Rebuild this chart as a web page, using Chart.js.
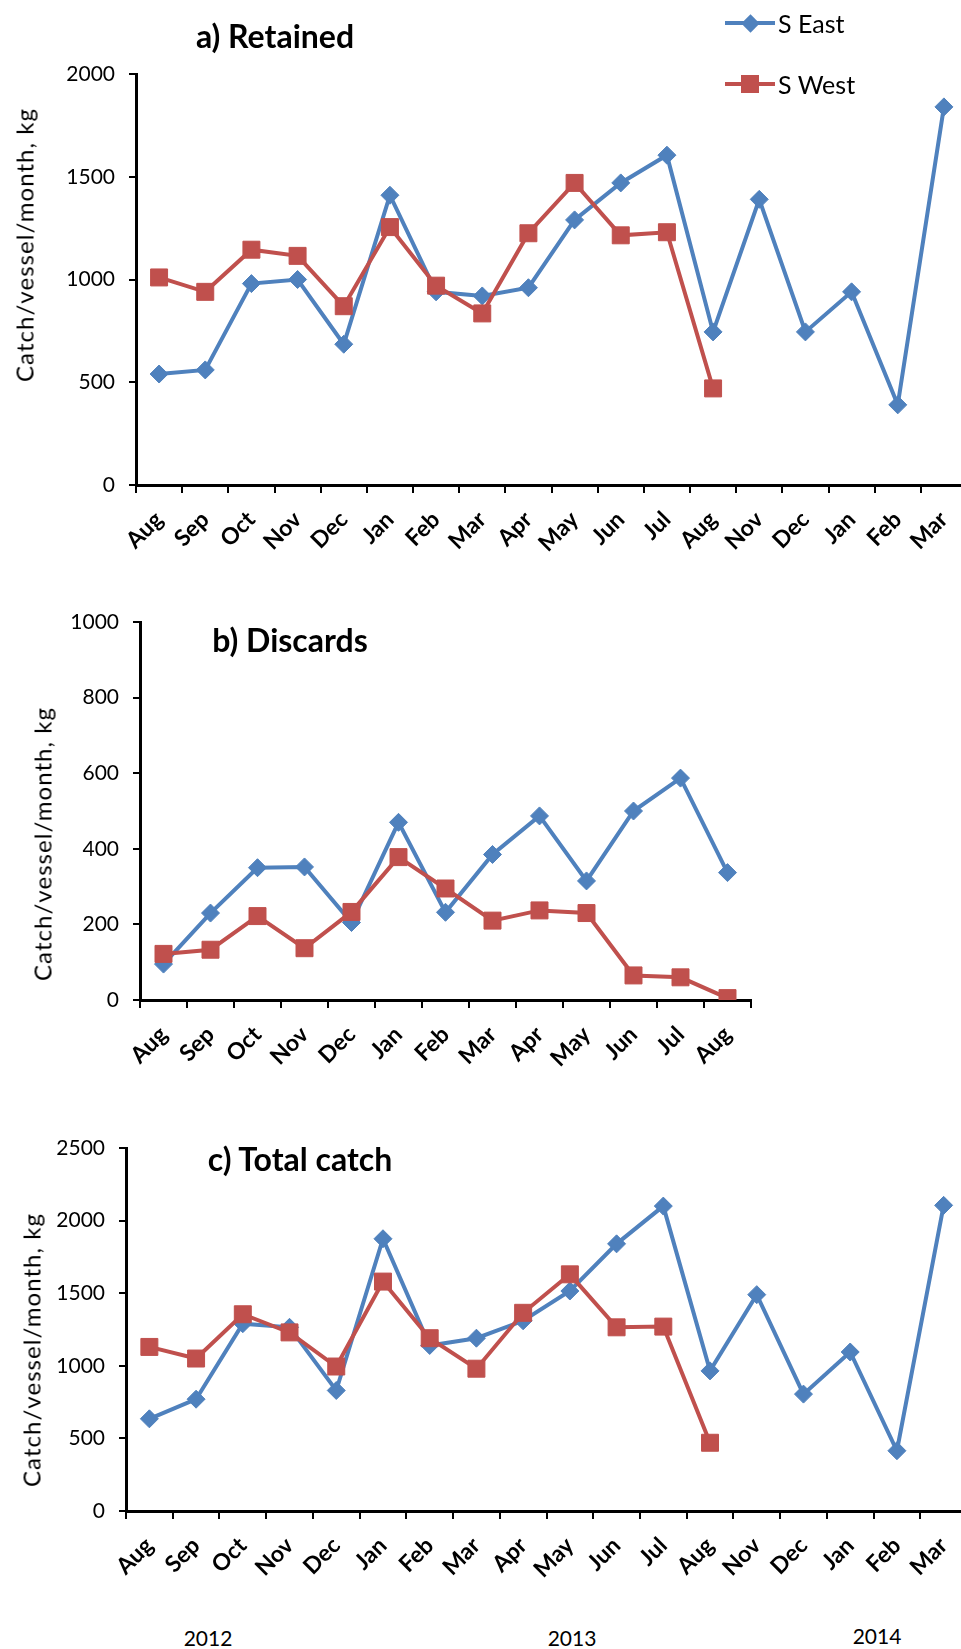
<!DOCTYPE html>
<html>
<head>
<meta charset="utf-8">
<script src="https://cdn.jsdelivr.net/npm/chart.js@4.4.1/dist/chart.umd.min.js"></script>
<style>
  body { margin: 0; width: 961px; height: 1649px; overflow: hidden; background: #fff; position: relative; }
  .box { position: absolute; left: 0; }
  .ttl { position: absolute; font: bold 32px Lato, sans-serif; white-space: nowrap; transform: translate(-50%, -50%); color: #000; }
  .ytl { position: absolute; font: 24px Lato, sans-serif; white-space: nowrap; transform: translate(-50%, -50%) rotate(-90deg); color: #000; }
  .yr { position: absolute; font: 21px Lato, sans-serif; transform: translate(-50%, -50%); color: #000; }
  .legtxt { position: absolute; font: 25px Lato, sans-serif; transform: translateY(-50%); white-space: nowrap; }
  .legline { position: absolute; height: 4px; width: 50px; left: 725px; }
  .legmk { position: absolute; }
</style>
</head>
<body>

<div class="box" style="top:0"><canvas id="chA" width="980" height="555"></canvas></div>
<div class="box" style="top:560px"><canvas id="chB" width="800" height="510"></canvas></div>
<div class="box" style="top:1080px"><canvas id="chC" width="980" height="506"></canvas></div>

<div class="ttl" style="left:275px;top:35px">a) Retained</div>
<div class="ttl" style="left:290px;top:639px">b) Discards</div>
<div class="ttl" style="left:300px;top:1158px">c) Total catch</div>

<div class="ytl" style="left:24px;top:245px">Catch/vessel/month, kg</div>
<div class="ytl" style="left:42px;top:844px">Catch/vessel/month, kg</div>
<div class="ytl" style="left:31px;top:1350px">Catch/vessel/month, kg</div>

<div class="yr" style="left:208px;top:1637px">2012</div>
<div class="yr" style="left:572px;top:1637px">2013</div>
<div class="yr" style="left:877px;top:1635px">2014</div>

<!-- legend -->
<div class="legline" style="top:21px;background:#4F81BD"></div>
<div class="legmk" style="left:744px;top:17px;width:13px;height:13px;background:#4F81BD;transform:rotate(45deg)"></div>
<div class="legtxt" style="left:778px;top:23px">S East</div>
<div class="legline" style="top:82px;background:#C0504D"></div>
<div class="legmk" style="left:741px;top:75px;width:18px;height:18px;background:#C0504D"></div>
<div class="legtxt" style="left:778px;top:84px">S West</div>

<script>
// months on the x axis (a and c run to Mar 2014, b stops at Aug 2013)
const months = ["Aug","Sep","Oct","Nov","Dec","Jan","Feb","Mar","Apr","May","Jun","Jul","Aug","Nov","Dec","Jan","Feb","Mar"];
const monthsB = ["Aug","Sep","Oct","Nov","Dec","Jan","Feb","Mar","Apr","May","Jun","Jul","Aug"];

// a) Retained
const retainedEast = [540, 560, 980, 1000, 685, 1410, 940, 920, 960, 1290, 1470, 1605, 745, 1390, 745, 940, 390, 1840];
const retainedWest = [1010, 940, 1145, 1115, 870, 1255, 970, 835, 1225, 1470, 1215, 1230, 470, null, null, null, null, null];

// b) Discards
const discardsEast = [95, 230, 350, 352, 205, 470, 232, 385, 487, 315, 500, 587, 337];
const discardsWest = [122, 133, 222, 137, 233, 378, 295, 210, 237, 230, 65, 60, 5];

// c) Total catch
const totalEast = [635, 770, 1290, 1265, 830, 1875, 1140, 1190, 1310, 1515, 1840, 2100, 965, 1490, 805, 1095, 415, 2105];
const totalWest = [1130, 1050, 1355, 1230, 995, 1580, 1190, 980, 1365, 1630, 1265, 1270, 470, null, null, null, null, null];

const blue = "#4F81BD";
const red = "#C0504D";

// stretch the rotated axis titles to the same length as in the original
const ctx0 = document.createElement("canvas").getContext("2d");
ctx0.font = "24px Lato";
document.querySelectorAll(".ytl").forEach(el => {
  const txt = el.textContent;
  const w = ctx0.measureText(txt).width;
  el.style.letterSpacing = Math.max(0, (274 - w) / txt.length).toFixed(2) + "px";
});

function makeChart(id, labels, east, west, yMax, yStep, g) {
  return new Chart(document.getElementById(id), {
    type: "line",
    data: {
      labels: labels,
      datasets: [
        { label: "S East", data: east, borderColor: blue, backgroundColor: blue, borderWidth: 4,
          pointStyle: "rectRot", pointRadius: 9, pointBorderWidth: 1, order: 1 },
        { label: "S West", data: west, borderColor: red, backgroundColor: red, borderWidth: 4,
          pointStyle: "rect", pointRadius: 12, pointBorderWidth: 1, order: 0 }
      ]
    },
    options: {
      responsive: false,
      animation: false,
      layout: { padding: { left: 0, top: g.top, right: g.right, bottom: 0 } },
      plugins: { legend: { display: false }, tooltip: { enabled: false } },
      scales: {
        x: {
          offset: true,
          grid: { offset: true, drawOnChartArea: false, tickLength: 8, color: "#000", lineWidth: 2 },
          border: { color: "#000", width: 3 },
          ticks: { autoSkip: false, maxRotation: 45, minRotation: 45, color: "#000", padding: 13,
                   font: { family: "Lato", size: 23, weight: "bold" } },
          afterFit: s => { s.height = g.xh; }
        },
        y: {
          min: 0, max: yMax,
          ticks: { stepSize: yStep, color: "#000", padding: 14, font: { family: "Lato", size: 21 },
                   callback: v => String(v) },
          grid: { drawOnChartArea: false, tickLength: 7, color: "#000", lineWidth: 2 },
          border: { color: "#000", width: 3 },
          afterFit: s => { s.width = g.left; }
        }
      }
    }
  });
}

makeChart("chA", months, retainedEast, retainedWest, 2000, 500, { left: 136, top: 74, right: 13, xh: 70 });
makeChart("chB", monthsB, discardsEast, discardsWest, 1000, 200, { left: 140, top: 62, right: 49, xh: 70 });
makeChart("chC", months, totalEast, totalWest, 2500, 500, { left: 126, top: 68, right: 13, xh: 75 });
</script>
</body>
</html>
